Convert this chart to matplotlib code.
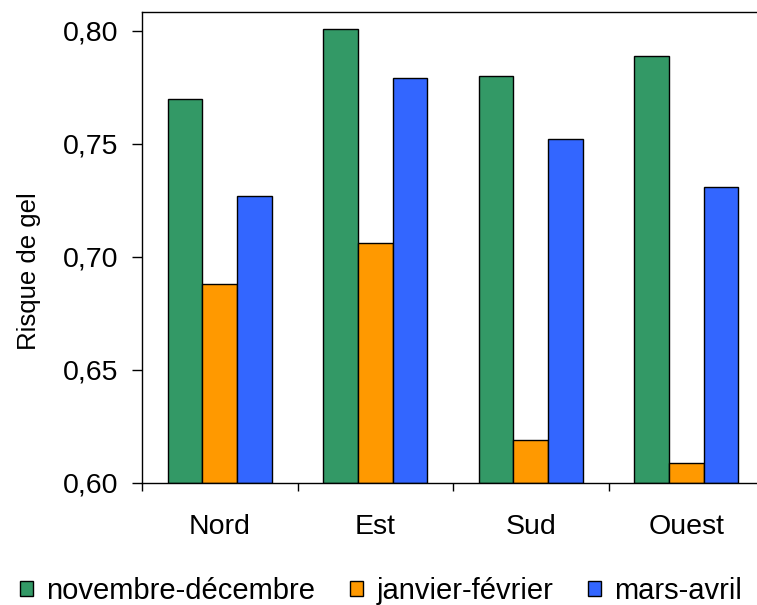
import matplotlib.pyplot as plt
from matplotlib.ticker import FuncFormatter
import numpy as np

plt.rcParams['font.family'] = ['Liberation Sans', 'DejaVu Sans']

# Data
regions = ["Nord", "Est", "Sud", "Ouest"]
periods = ["novembre-décembre", "janvier-février", "mars-avril"]
nov_dec = [0.770, 0.801, 0.780, 0.789]
jan_fev = [0.688, 0.706, 0.619, 0.609]
mar_avr = [0.727, 0.779, 0.752, 0.731]
colors = ["#339966", "#FF9900", "#3366FF"]

fig = plt.figure(figsize=(7.57, 6.05), dpi=100)
ax = fig.add_axes([142 / 757, 1 - 483 / 605, 622 / 757, (483 - 11.7) / 605])

x = np.arange(len(regions))
w = 0.222
for i, (vals, lab, col) in enumerate(zip([nov_dec, jan_fev, mar_avr], periods, colors)):
    ax.bar(x + (i - 1) * w, np.array(vals) - 0.60, width=w, bottom=0.60,
           color=col, edgecolor="black", linewidth=1.0, label=lab)

ax.set_xlim(-0.5, len(regions) - 0.5)
ax.set_ylim(0.60, 0.8085)
ax.set_yticks([0.60, 0.65, 0.70, 0.75, 0.80])
ax.yaxis.set_major_formatter(FuncFormatter(lambda v, p: f"{v:.2f}".replace(".", ",")))

# boundaries carry tick marks, centres carry the labels
ax.set_xticks(np.arange(len(regions) + 1) - 0.5)
ax.set_xticklabels([])
ax.set_xticks(x, minor=True)
ax.set_xticklabels(regions, minor=True)
ax.tick_params(axis="x", which="minor", length=0, pad=22, labelsize=20.5)
ax.tick_params(axis="x", which="major", length=6, width=1, direction="out")
ax.tick_params(axis="y", length=7, width=1, pad=10, labelsize=20.5)

for s in ["top", "left", "bottom", "right"]:
    ax.spines[s].set_linewidth(1.0)

fig.text(29 / 757, 1 - 271 / 605, "Risque de gel", rotation=90,
         ha="center", va="center", fontsize=18.5)

fig.legend(loc="center", bbox_to_anchor=(381 / 757, 1 - 591 / 605), ncol=3,
           frameon=False, fontsize=21, handlelength=0.45, handleheight=0.45,
           handletextpad=0.45, columnspacing=1.2, borderpad=0, borderaxespad=0)

plt.savefig("out.png", dpi=100)
